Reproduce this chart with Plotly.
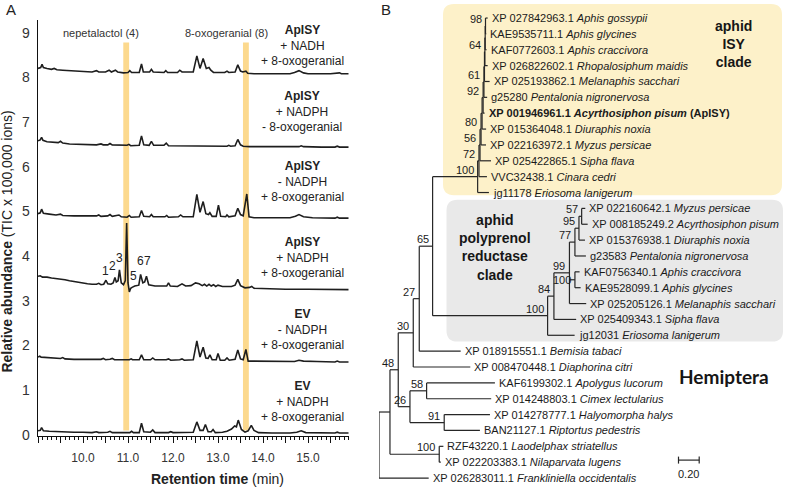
import plotly.graph_objects as go

W, H = 785, 495
FONT = "Liberation Sans, Arial, Helvetica, sans-serif"
INK = "#1e1e1e"

# ======================= Panel A : GC-MS traces =======================
x_tick_vals = [9.0, 9.5, 10.0, 10.5, 11.0, 11.5, 12.0, 12.5, 13.0, 13.5, 14.0, 14.5, 15.0, 15.5]
x_tick_text = ["", "", "10.0", "", "11.0", "", "12.0", "", "13.0", "", "14.0", "", "15.0", ""]
y_tick_vals = [0, 1, 2, 3, 4, 5, 6, 7, 8, 9]

standard_names = ["nepetalactol (4)", "8-oxogeranial (8)"]
standard_rt = [10.96, 13.62]
standard_label_rt = [10.40, 13.18]

enzyme = ["ApISY", "ApISY", "ApISY", "ApISY", "EV", "EV"]
cofactor = ["+ NADH", "+ NADPH", "- NADPH", "+ NADPH", "- NADPH", "+ NADPH"]
substrate = ["+ 8-oxogeranial", "- 8-oxogeranial", "+ 8-oxogeranial",
             "+ 8-oxogeranial", "+ 8-oxogeranial", "+ 8-oxogeranial"]
label_level = [8.71, 7.24, 5.67, 3.97, 2.36, 0.75]

tic_apisy_nadh = [(9.00, 8.20), (9.06, 8.22), (9.09, 8.29), (9.12, 8.22), (9.2, 8.20), (9.3, 8.18), (9.36, 8.20),
    (9.42, 8.17), (9.55, 8.16), (9.7, 8.15), (9.85, 8.14), (10.0, 8.13), (10.2, 8.12), (10.3, 8.15), (10.35, 8.12),
    (10.5, 8.12), (10.58, 8.16), (10.63, 8.12), (10.72, 8.16), (10.77, 8.12), (10.9, 8.10), (11.0, 8.11),
    (11.04, 8.15), (11.08, 8.11), (11.25, 8.11), (11.30, 8.30), (11.34, 8.12), (11.48, 8.12), (11.52, 8.18),
    (11.56, 8.12), (11.8, 8.11), (11.84, 8.15), (11.88, 8.11), (12.1, 8.11), (12.15, 8.16), (12.2, 8.12),
    (12.45, 8.12), (12.53, 8.48), (12.60, 8.20), (12.67, 8.42), (12.74, 8.20), (12.80, 8.22), (12.84, 8.16),
    (12.9, 8.11), (13.15, 8.11), (13.2, 8.14), (13.24, 8.11), (13.38, 8.12), (13.44, 8.28), (13.5, 8.14),
    (13.55, 8.12), (13.62, 8.14), (13.66, 8.09), (13.8, 8.08), (14.2, 8.08), (14.6, 8.08), (14.7, 8.11),
    (14.8, 8.15), (14.9, 8.10), (15.0, 8.08), (15.5, 8.08), (15.7, 8.10), (15.74, 8.08), (15.9, 8.08)]

tic_apisy_nadph_no_sub = [(9.00, 6.58), (9.05, 6.60), (9.08, 6.66), (9.11, 6.59), (9.2, 6.56), (9.3, 6.55),
    (9.45, 6.54), (9.5, 6.57), (9.55, 6.53), (9.7, 6.51), (9.9, 6.50), (10.1, 6.49), (10.3, 6.49), (10.4, 6.51),
    (10.45, 6.49), (10.55, 6.49), (10.6, 6.52), (10.65, 6.49), (10.8, 6.49), (10.98, 6.48), (11.02, 6.50),
    (11.06, 6.47), (11.25, 6.48), (11.30, 6.69), (11.35, 6.49), (11.47, 6.48), (11.52, 6.57), (11.57, 6.48),
    (11.8, 6.48), (11.85, 6.53), (11.9, 6.47), (12.2, 6.47), (12.6, 6.47), (12.9, 6.47), (13.2, 6.46),
    (13.24, 6.48), (13.28, 6.46), (13.38, 6.47), (13.44, 6.61), (13.5, 6.49), (13.56, 6.46), (13.7, 6.45),
    (14.0, 6.45), (14.5, 6.45), (14.8, 6.45), (14.85, 6.47), (14.9, 6.45), (15.3, 6.44), (15.6, 6.44),
    (15.65, 6.46), (15.7, 6.44), (15.9, 6.44)]

tic_apisy_no_cofactor = [(9.00, 4.95), (9.05, 4.97), (9.08, 5.05), (9.12, 4.96), (9.25, 4.94), (9.4, 4.92),
    (9.5, 4.94), (9.55, 4.91), (9.8, 4.90), (10.1, 4.89), (10.3, 4.90), (10.35, 4.92), (10.4, 4.89), (10.55, 4.90),
    (10.6, 4.93), (10.65, 4.89), (10.75, 4.90), (10.8, 4.92), (10.85, 4.88), (10.98, 4.87), (11.03, 4.91),
    (11.07, 4.87), (11.25, 4.88), (11.30, 5.02), (11.35, 4.89), (11.48, 4.88), (11.52, 4.93), (11.56, 4.88),
    (11.82, 4.88), (11.86, 4.91), (11.9, 4.87), (12.12, 4.88), (12.17, 4.92), (12.22, 4.88), (12.45, 4.88),
    (12.53, 5.38), (12.60, 4.98), (12.67, 5.22), (12.73, 4.95), (12.79, 4.93), (12.82, 4.97), (12.87, 4.89),
    (12.96, 4.89), (13.01, 5.14), (13.06, 4.89), (13.17, 4.88), (13.2, 4.92), (13.24, 4.88), (13.38, 4.90),
    (13.44, 5.07), (13.5, 4.93), (13.56, 4.90), (13.64, 5.39), (13.69, 4.88), (13.8, 4.86), (14.2, 4.86),
    (14.6, 4.86), (14.72, 4.89), (14.8, 4.93), (14.9, 4.88), (15.1, 4.86), (15.6, 4.85), (15.65, 4.87),
    (15.7, 4.85), (15.9, 4.85)]

tic_apisy_nadph = [(9.00, 3.55), (9.05, 3.56), (9.1, 3.53), (9.2, 3.53), (9.3, 3.51), (9.4, 3.50), (9.5, 3.49),
    (9.6, 3.47), (9.7, 3.45), (9.8, 3.43), (9.9, 3.41), (10.0, 3.40), (10.1, 3.38), (10.2, 3.37), (10.3, 3.37),
    (10.35, 3.39), (10.4, 3.36), (10.46, 3.37), (10.51, 3.46), (10.55, 3.38), (10.62, 3.37), (10.67, 3.40),
    (10.71, 3.52), (10.74, 3.42), (10.78, 3.45), (10.81, 3.69), (10.85, 3.40), (10.9, 3.36), (10.94, 3.45),
    (10.97, 4.74), (11.0, 3.40), (11.03, 3.20), (11.06, 3.28), (11.09, 3.30), (11.15, 3.33), (11.24, 3.35),
    (11.28, 3.59), (11.33, 3.40), (11.37, 3.42), (11.41, 3.55), (11.46, 3.36), (11.6, 3.33), (11.8, 3.32),
    (11.86, 3.33), (11.9, 3.40), (11.94, 3.33), (12.1, 3.32), (12.2, 3.38), (12.28, 3.33), (12.4, 3.34),
    (12.5, 3.40), (12.58, 3.38), (12.65, 3.34), (12.7, 3.37), (12.75, 3.33), (12.8, 3.37), (12.85, 3.33),
    (12.9, 3.36), (12.95, 3.32), (13.0, 3.35), (13.1, 3.32), (13.3, 3.32), (13.38, 3.35), (13.44, 3.48),
    (13.5, 3.34), (13.6, 3.29), (13.7, 3.30), (13.75, 3.32), (13.8, 3.28), (14.0, 3.27), (14.5, 3.26),
    (15.0, 3.26), (15.5, 3.25), (15.9, 3.25)]

tic_ev_no_cofactor = [(9.00, 1.74), (9.04, 1.76), (9.07, 1.74), (9.2, 1.73), (9.35, 1.72), (9.5, 1.71),
    (9.55, 1.73), (9.6, 1.70), (9.8, 1.69), (10.0, 1.69), (10.2, 1.69), (10.4, 1.69), (10.45, 1.71), (10.5, 1.68),
    (10.6, 1.69), (10.65, 1.71), (10.7, 1.68), (10.9, 1.68), (11.03, 1.68), (11.07, 1.70), (11.1, 1.68),
    (11.25, 1.68), (11.30, 1.79), (11.35, 1.68), (11.5, 1.68), (11.55, 1.72), (11.6, 1.68), (11.85, 1.68),
    (11.9, 1.70), (11.95, 1.67), (12.15, 1.68), (12.2, 1.70), (12.25, 1.67), (12.45, 1.68), (12.53, 2.10),
    (12.60, 1.74), (12.67, 1.96), (12.73, 1.72), (12.78, 1.71), (12.82, 1.79), (12.87, 1.68), (12.96, 1.68),
    (13.0, 1.82), (13.05, 1.67), (13.15, 1.67), (13.2, 1.72), (13.25, 1.67), (13.38, 1.69), (13.44, 1.90),
    (13.5, 1.70), (13.56, 1.68), (13.62, 1.91), (13.67, 1.65), (13.8, 1.65), (14.2, 1.64), (14.7, 1.64),
    (14.8, 1.67), (14.9, 1.65), (15.2, 1.64), (15.6, 1.63), (15.65, 1.65), (15.7, 1.63), (15.9, 1.63)]

tic_ev_nadph = [(9.00, 0.09), (9.05, 0.10), (9.08, 0.16), (9.12, 0.09), (9.25, 0.08), (9.4, 0.07), (9.5, 0.08),
    (9.55, 0.06), (9.8, 0.06), (10.0, 0.06), (10.2, 0.05), (10.3, 0.07), (10.35, 0.05), (10.55, 0.06),
    (10.6, 0.08), (10.65, 0.05), (10.9, 0.05), (11.04, 0.05), (11.08, 0.08), (11.12, 0.05), (11.25, 0.05),
    (11.30, 0.26), (11.35, 0.07), (11.5, 0.06), (11.55, 0.11), (11.6, 0.05), (11.9, 0.05), (11.95, 0.07),
    (12.0, 0.05), (12.2, 0.05), (12.45, 0.06), (12.53, 0.29), (12.60, 0.10), (12.67, 0.10), (12.72, 0.23),
    (12.78, 0.07), (12.85, 0.07), (12.89, 0.12), (12.94, 0.05), (13.1, 0.06), (13.2, 0.08), (13.3, 0.13),
    (13.37, 0.20), (13.41, 0.18), (13.45, 0.33), (13.52, 0.12), (13.6, 0.06), (13.67, 0.09), (13.74, 0.21),
    (13.8, 0.10), (13.9, 0.05), (14.2, 0.04), (14.6, 0.04), (14.75, 0.06), (14.85, 0.09), (14.95, 0.05),
    (15.3, 0.04), (15.6, 0.04), (15.65, 0.06), (15.7, 0.04), (15.9, 0.04)]

traces_a = [tic_apisy_nadh, tic_apisy_nadph_no_sub, tic_apisy_no_cofactor,
            tic_apisy_nadph, tic_ev_no_cofactor, tic_ev_nadph]

peak_ids = ["1", "2", "3", "5", "6", "7"]
peak_label_rt = [10.49, 10.66, 10.80, 11.12, 11.27, 11.44]
peak_label_level = [3.66, 3.77, 3.95, 3.55, 3.90, 3.88]

# ======================= Panel B : phylogeny =======================
leaf_ids = ["XP 027842963.1", "KAE9535711.1", "KAF0772603.1", "XP 026822602.1", "XP 025193862.1",
            "g25280", "XP 001946961.1", "XP 015364048.1", "XP 022163972.1", "XP 025422865.1",
            "VVC32438.1", "jg11178",
            "XP 022160642.1", "XP 008185249.2", "XP 015376938.1", "g23583", "KAF0756340.1",
            "KAE9528099.1", "XP 025205126.1", "XP 025409343.1", "jg12031",
            "XP 018915551.1", "XP 008470448.1", "KAF6199302.1", "XP 014248803.1", "XP 014278777.1",
            "BAN21127.1", "RZF43220.1", "XP 022203383.1", "XP 026283011.1"]
leaf_species = ["Aphis gossypii", "Aphis glycines", "Aphis craccivora", "Rhopalosiphum maidis",
                "Melanaphis sacchari", "Pentalonia nigronervosa", "Acyrthosiphon pisum", "Diuraphis noxia",
                "Myzus persicae", "Sipha flava", "Cinara cedri", "Eriosoma lanigerum",
                "Myzus persicae", "Acyrthosiphon pisum", "Diuraphis noxia", "Pentalonia nigronervosa",
                "Aphis craccivora", "Aphis glycines", "Melanaphis sacchari", "Sipha flava",
                "Eriosoma lanigerum",
                "Bemisia tabaci", "Diaphorina citri", "Apolygus lucorum", "Cimex lectularius",
                "Halyomorpha halys", "Riptortus pedestris", "Laodelphax striatellus", "Nilaparvata lugens",
                "Frankliniella occidentalis"]
highlight_leaf = 6
highlight_note = "(ApISY)"

ISY_CLADE = ("(((((((((((0:0.021,1:0.007)98:0.003,2:0.014):0.003,3:0.027)64:0.004,4:0.050):0.005,"
             "5:0.031)61:0.008,6:0.014)92:0.010,7:0.039):0.010,8:0.048)80:0.010,9:0.106)56:0.010,"
             "10:0.077)72:0.013,11:0.109)100:0.435")
PPR_CLADE = ("((((((12:0.035,13:0.058)57:0.026,14:0.058)95:0.039,15:0.106)77:0.053,"
             "(16:0.045,17:0.055)100:0.053,18:0.162)99:0.150,19:0.215)84:0.061,20:0.261)100:1.111")
TREE = ("((((((" + ISY_CLADE + "," + PPR_CLADE + ")65:0.129,21:0.400)27:0.058,22:0.551)30:0.145,"
        "((23:0.660,24:0.624)58:0.161,(25:0.442,26:0.345)91:0.331)26:0.113)48:0.080,"
        "(27:0.040,28:0.015)100:0.476):0.106,29:0.480);")
scale_bar_len = 0.20
clade_isy = ["aphid", "ISY", "clade"]
clade_ppr = ["aphid", "polyprenol", "reductase", "clade"]
order_name = "Hemiptera"


# ----------------------------- helpers -----------------------------
def PX(x):
    return x / W


def PY(y):
    return 1 - y / H


def parse_newick(s):
    s = s.strip().rstrip(";")
    pos = 0

    def node():
        nonlocal pos
        kids = []
        if s[pos] == "(":
            pos += 1
            kids.append(node())
            while s[pos] == ",":
                pos += 1
                kids.append(node())
            pos += 1  # ')'
        start = pos
        while pos < len(s) and s[pos] not in ",():":
            pos += 1
        name = s[start:pos].strip()
        bl = 0.0
        if pos < len(s) and s[pos] == ":":
            pos += 1
            start = pos
            while pos < len(s) and s[pos] not in ",()":
                pos += 1
            bl = float(s[start:pos])
        return {"name": name, "bl": bl, "kids": kids}

    return node()


def layout_tree(n, x0):
    n["x"] = x0 + n["bl"]
    if n["kids"]:
        for k in n["kids"]:
            layout_tree(k, n["x"])
        n["y"] = (n["kids"][0]["y"] + n["kids"][-1]["y"]) / 2
    else:
        n["y"] = int(n["name"])


def rounded_box(x0, y0, x1, y1, r):
    return (f"M {PX(x0 + r)},{PY(y0)} L {PX(x1 - r)},{PY(y0)} Q {PX(x1)},{PY(y0)} {PX(x1)},{PY(y0 + r)} "
            f"L {PX(x1)},{PY(y1 - r)} Q {PX(x1)},{PY(y1)} {PX(x1 - r)},{PY(y1)} "
            f"L {PX(x0 + r)},{PY(y1)} Q {PX(x0)},{PY(y1)} {PX(x0)},{PY(y1 - r)} "
            f"L {PX(x0)},{PY(y0 + r)} Q {PX(x0)},{PY(y0)} {PX(x0 + r)},{PY(y0)} Z")


fig = go.Figure()
annotations = []
shapes = []

# ----------------------------- Panel A -----------------------------
for tr in traces_a:
    fig.add_trace(go.Scatter(x=[p[0] for p in tr], y=[p[1] for p in tr], mode="lines",
                             line=dict(color=INK, width=1.6), hoverinfo="skip", showlegend=False,
                             xaxis="x", yaxis="y"))

for rt in standard_rt:
    shapes.append(dict(type="rect", xref="x", yref="y", x0=rt - 0.065, x1=rt + 0.065, y0=0.10, y1=8.78,
                       fillcolor="#FCD98E", line=dict(width=0), layer="below"))

for name, lrt in zip(standard_names, standard_label_rt):
    annotations.append(dict(x=lrt, y=9.0, xref="x", yref="y", text=name, showarrow=False,
                            font=dict(size=11, color="#333", family=FONT), xanchor="center", yanchor="middle"))

for e, c, s_, lv in zip(enzyme, cofactor, substrate, label_level):
    annotations.append(dict(x=14.87, y=lv, xref="x", yref="y", showarrow=False,
                            text=f"<b>{e}</b><br>{c}<br>{s_}", align="center",
                            font=dict(size=12, color="#222", family=FONT), xanchor="center", yanchor="middle"))

for pid, prt, plv in zip(peak_ids, peak_label_rt, peak_label_level):
    annotations.append(dict(x=prt, y=plv, xref="x", yref="y", text=pid, showarrow=False,
                            font=dict(size=12, color="#222", family=FONT), xanchor="center", yanchor="middle"))

annotations.append(dict(x=PX(7), y=PY(245), xref="paper", yref="paper", textangle=-90, showarrow=False,
                        text="<b>Relative abundance</b> (TIC x 100,000 ions)",
                        font=dict(size=14, color="#222", family=FONT), xanchor="center", yanchor="middle"))
annotations.append(dict(x=PX(217), y=PY(486), xref="paper", yref="paper", showarrow=False,
                        text="<b>Retention time</b> (min)",
                        font=dict(size=14, color="#222", family=FONT), xanchor="center", yanchor="middle"))
annotations.append(dict(x=PX(11), y=PY(10), xref="paper", yref="paper", showarrow=False, text="A",
                        font=dict(size=15, color="#222", family=FONT), xanchor="center", yanchor="middle"))
annotations.append(dict(x=PX(386), y=PY(10), xref="paper", yref="paper", showarrow=False, text="B",
                        font=dict(size=15, color="#222", family=FONT), xanchor="center", yanchor="middle"))

# ----------------------------- Panel B -----------------------------
PX_PER_UNIT = 103.5
ROOT_PX = 379.0
LEAF0_PX = 18.3
LEAF_STEP = 16.09

shapes.append(dict(type="path", xref="paper", yref="paper", path=rounded_box(443, 4, 782, 198, 11),
                   fillcolor="#FDF1C9", line=dict(width=0), layer="below"))
shapes.append(dict(type="path", xref="paper", yref="paper", path=rounded_box(446.5, 202.5, 783, 346.5, 11),
                   fillcolor="#E9E9E9", line=dict(width=0), layer="below"))

root = parse_newick(TREE)
layout_tree(root, 0.0)

lx, ly = [], []
boot = []
tips = []


def collect(n, parent_x):
    if parent_x is not None:
        lx.extend([parent_x, n["x"], None])
        ly.extend([n["y"], n["y"], None])
    if n["kids"]:
        lx.extend([n["x"], n["x"], None])
        ly.extend([n["kids"][0]["y"], n["kids"][-1]["y"], None])
        if n["name"]:
            boot.append((n["x"], n["y"], n["name"]))
        for k in n["kids"]:
            collect(k, n["x"])
    else:
        tips.append((n["x"], n["y"]))


collect(root, None)

fig.add_trace(go.Scatter(x=lx, y=ly, mode="lines", line=dict(color="#262626", width=1.2),
                         hoverinfo="skip", showlegend=False, xaxis="x2", yaxis="y2"))

for (tx, ty) in tips:
    i = int(ty)
    txt = f"{leaf_ids[i]} <i>{leaf_species[i]}</i>"
    if i == highlight_leaf:
        txt = f"<b>{txt} {highlight_note}</b>"
    annotations.append(dict(x=tx, y=ty, xref="x2", yref="y2", text=txt, showarrow=False, xanchor="left",
                            yanchor="middle", xshift=2, font=dict(size=11, color="#1a1a1a", family=FONT)))

# bootstrap labels: placed just above-left of their node; drop to node level when they would collide
placed = []
for (bx, by, bt) in boot:
    px_right = ROOT_PX + bx * PX_PER_UNIT - 2
    px_w = 6.2 * len(bt)
    ys = 7
    py_c = LEAF0_PX + by * LEAF_STEP - ys
    for (r0, w0, c0) in placed:
        if abs(py_c - c0) < 11 and (px_right - px_w) < r0 and (r0 - w0) < px_right:
            ys = 0
            py_c = LEAF0_PX + by * LEAF_STEP
            break
    placed.append((px_right, px_w, py_c))
    annotations.append(dict(x=bx, y=by, xref="x2", yref="y2", text=bt, showarrow=False, xanchor="right",
                            yanchor="middle", xshift=-2, yshift=ys,
                            font=dict(size=11, color="#1a1a1a", family=FONT)))

# scale bar
sb_x = (678.5 - ROOT_PX) / PX_PER_UNIT
sb_y = (466.7 - LEAF0_PX) / LEAF_STEP
fig.add_trace(go.Scatter(x=[sb_x, sb_x + scale_bar_len, None, sb_x, sb_x, None,
                            sb_x + scale_bar_len, sb_x + scale_bar_len],
                         y=[sb_y, sb_y, None, sb_y - 0.22, sb_y + 0.22, None, sb_y - 0.22, sb_y + 0.22],
                         mode="lines", line=dict(color="#262626", width=1.2), hoverinfo="skip",
                         showlegend=False, xaxis="x2", yaxis="y2"))
annotations.append(dict(x=sb_x + scale_bar_len / 2, y=sb_y, xref="x2", yref="y2", text=f"{scale_bar_len:.2f}",
                        showarrow=False, yshift=-14, xanchor="center", yanchor="middle",
                        font=dict(size=11, color="#1a1a1a", family=FONT)))

annotations.append(dict(x=PX(733), y=PY(45), xref="paper", yref="paper", showarrow=False,
                        text="<b>" + "<br>".join(clade_isy) + "</b>", align="center",
                        font=dict(size=14, color="#161616", family=FONT), xanchor="center", yanchor="middle"))
annotations.append(dict(x=PX(495), y=PY(251), xref="paper", yref="paper", showarrow=False,
                        text="<b>" + "<br>".join(clade_ppr) + "</b>", align="center",
                        font=dict(size=14, color="#161616", family=FONT), xanchor="center", yanchor="middle"))
annotations.append(dict(x=PX(724), y=PY(382), xref="paper", yref="paper", showarrow=False,
                        text=f"<b>{order_name}</b>",
                        font=dict(size=19, color="#161616", family="Lato, Open Sans, sans-serif"),
                        xanchor="center", yanchor="middle"))

fig.update_layout(
    width=W, height=H, margin=dict(l=0, r=0, t=0, b=0),
    paper_bgcolor="white", plot_bgcolor="rgba(0,0,0,0)",
    font=dict(family=FONT, color="#222"),
    showlegend=False,
    xaxis=dict(domain=[PX(38), PX(349)], range=[9.0, 15.911], anchor="y",
               showline=True, linecolor="#111", linewidth=1.5, showgrid=False, zeroline=False,
               tickmode="array", tickvals=x_tick_vals, ticktext=x_tick_text,
               ticks="outside", ticklen=6, tickwidth=1, tickcolor="#111",
               ticklabelstandoff=4,
               minor=dict(dtick=0.1, tick0=9.0, ticks="outside", ticklen=3, tickwidth=1, tickcolor="#111"),
               tickfont=dict(size=12, color="#333", family=FONT)),
    yaxis=dict(domain=[PY(442), PY(20)], range=[-0.02, 9.29], anchor="x",
               showline=True, linecolor="#111", linewidth=1.5, showgrid=False, zeroline=False,
               tickmode="array", tickvals=y_tick_vals, ticks="", ticklabelstandoff=4,
               tickfont=dict(size=14, color="#333", family=FONT)),
    xaxis2=dict(domain=[PX(ROOT_PX), 1.0], range=[0, (W - ROOT_PX) / PX_PER_UNIT], anchor="y2",
                visible=False),
    yaxis2=dict(domain=[0, 1], range=[(H - LEAF0_PX) / LEAF_STEP, -LEAF0_PX / LEAF_STEP], anchor="x2",
                visible=False),
    shapes=shapes,
    annotations=annotations,
)

fig.write_html("out.html", config={"displayModeBar": False, "staticPlot": True},
               post_script="document.body.style.margin='0px';document.body.style.overflow='hidden';")
